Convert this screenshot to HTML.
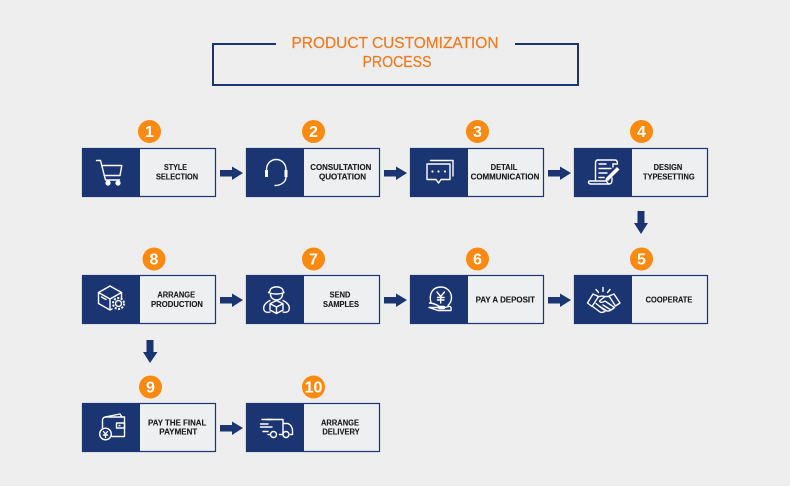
<!DOCTYPE html>
<html><head><meta charset="utf-8"><title>Product Customization Process</title>
<style>
html,body{margin:0;padding:0;background:#eeeeee}
svg{display:block}
text{font-family:"Liberation Sans",sans-serif}
.l{font-size:7.8px;font-weight:bold;fill:#1a1a1a;stroke:#1a1a1a;stroke-width:.12;text-anchor:middle}
.n{font-size:16px;font-weight:bold;fill:#fff;text-anchor:middle}
.t{font-size:16px;fill:#f47b20;stroke:#f47b20;stroke-width:.25;text-anchor:middle}
.box{fill:#eeeff1;stroke:#1b3573;stroke-width:1.2}
.pn{fill:#1b3573}
.c{fill:#fb8a0f}
.ic{fill:none;stroke:#fff;stroke-width:1.4;stroke-linecap:round;stroke-linejoin:round}
.ar{fill:#1b3573}
</style></head><body>
<svg width="790" height="486" viewBox="0 0 790 486" xmlns="http://www.w3.org/2000/svg">
<rect width="790" height="486" fill="#eeeeee"/>

<path d="M276 44H213V85H578V44H515" fill="none" stroke="#1b3573" stroke-width="2"/>
<text class="t" x="395" y="48" textLength="207" lengthAdjust="spacingAndGlyphs">PRODUCT CUSTOMIZATION</text>
<text class="t" x="397" y="67" textLength="69" lengthAdjust="spacingAndGlyphs">PROCESS</text>

<!-- boxes -->
<rect class="box" x="82.5" y="148.5" width="133" height="48"/><rect class="pn" x="82" y="148" width="58" height="49"/>
<rect class="box" x="246.5" y="148.5" width="133" height="48"/><rect class="pn" x="246" y="148" width="58" height="49"/>
<rect class="box" x="410.5" y="148.5" width="133" height="48"/><rect class="pn" x="410" y="148" width="58" height="49"/>
<rect class="box" x="574.5" y="148.5" width="133" height="48"/><rect class="pn" x="574" y="148" width="58" height="49"/>
<rect class="box" x="82.5" y="275.5" width="133" height="48"/><rect class="pn" x="82" y="275" width="58" height="49"/>
<rect class="box" x="246.5" y="275.5" width="133" height="48"/><rect class="pn" x="246" y="275" width="58" height="49"/>
<rect class="box" x="410.5" y="275.5" width="133" height="48"/><rect class="pn" x="410" y="275" width="58" height="49"/>
<rect class="box" x="574.5" y="275.5" width="133" height="48"/><rect class="pn" x="574" y="275" width="58" height="49"/>
<rect class="box" x="82.5" y="403.5" width="133" height="48"/><rect class="pn" x="82" y="403" width="58" height="49"/>
<rect class="box" x="246.5" y="403.5" width="133" height="48"/><rect class="pn" x="246" y="403" width="58" height="49"/>

<!-- circles -->
<circle class="c" cx="149.5" cy="131.5" r="11.5"/><text class="n" x="149.5" y="137">1</text>
<circle class="c" cx="313.5" cy="131.5" r="11.5"/><text class="n" x="313.5" y="137">2</text>
<circle class="c" cx="477.5" cy="131.5" r="11.5"/><text class="n" x="477.5" y="137">3</text>
<circle class="c" cx="641.5" cy="131.5" r="11.5"/><text class="n" x="641.5" y="137">4</text>
<circle class="c" cx="154" cy="259" r="11.5"/><text class="n" x="154" y="264.5">8</text>
<circle class="c" cx="313.5" cy="259" r="11.5"/><text class="n" x="313.5" y="264.5">7</text>
<circle class="c" cx="477.5" cy="259" r="11.5"/><text class="n" x="477.5" y="264.5">6</text>
<circle class="c" cx="641.5" cy="259" r="11.5"/><text class="n" x="641.5" y="264.5">5</text>
<circle class="c" cx="150.5" cy="387" r="11.5"/><text class="n" x="150.5" y="392.5">9</text>
<circle class="c" cx="313.5" cy="387" r="11.5"/><text class="n" x="313.5" y="392.5">10</text>

<!-- arrows -->
<path class="ar" d="M220 170H232V166.5L243 173L232 180V176.5H220Z"/>
<path class="ar" d="M384 170H396V166.5L407 173L396 180V176.5H384Z"/>
<path class="ar" d="M548 170H560V166.5L571 173L560 180V176.5H548Z"/>
<path class="ar" d="M220 297H232V293.5L243 300L232 307V303.5H220Z"/>
<path class="ar" d="M384 297H396V293.5L407 300L396 307V303.5H384Z"/>
<path class="ar" d="M548 297H560V293.5L571 300L560 307V303.5H548Z"/>
<path class="ar" d="M220 425H232V421.5L243 428L232 435V431.5H220Z"/>
<path class="ar" d="M637.5 211H644.5V223H648L641 234L634 223H637.5Z"/>
<path class="ar" d="M146.500 340H153.500V352H157.500L150 363L143 352H146.500Z"/>

<!-- labels -->
<text class="l" x="175.500" y="170" textLength="23" lengthAdjust="spacingAndGlyphs">STYLE</text>
<text class="l" x="177" y="179.700" textLength="42" lengthAdjust="spacingAndGlyphs">SELECTION</text>
<text class="l" x="340.800" y="170" textLength="61" lengthAdjust="spacingAndGlyphs">CONSULTATION</text>
<text class="l" x="342.500" y="179.700" textLength="47" lengthAdjust="spacingAndGlyphs">QUOTATION</text>
<text class="l" x="504" y="170" textLength="26.700" lengthAdjust="spacingAndGlyphs">DETAIL</text>
<text class="l" x="505" y="179.700" textLength="68.700" lengthAdjust="spacingAndGlyphs">COMMUNICATION</text>
<text class="l" x="668" y="170" textLength="28.700" lengthAdjust="spacingAndGlyphs">DESIGN</text>
<text class="l" x="668.800" y="179.700" textLength="51.700" lengthAdjust="spacingAndGlyphs">TYPESETTING</text>
<text class="l" x="176.200" y="297.300" textLength="37.700" lengthAdjust="spacingAndGlyphs">ARRANGE</text>
<text class="l" x="177" y="307" textLength="52" lengthAdjust="spacingAndGlyphs">PRODUCTION</text>
<text class="l" x="340" y="297.300" textLength="20.700" lengthAdjust="spacingAndGlyphs">SEND</text>
<text class="l" x="341" y="307" textLength="36" lengthAdjust="spacingAndGlyphs">SAMPLES</text>
<text class="l" x="505.300" y="302.300" textLength="59.300" lengthAdjust="spacingAndGlyphs">PAY A DEPOSIT</text>
<text class="l" x="669" y="302.300" textLength="46.700" lengthAdjust="spacingAndGlyphs">COOPERATE</text>
<text class="l" x="177.200" y="425.300" textLength="58.300" lengthAdjust="spacingAndGlyphs">PAY THE FINAL</text>
<text class="l" x="178.300" y="434.700" textLength="38" lengthAdjust="spacingAndGlyphs">PAYMENT</text>
<text class="l" x="340" y="425.300" textLength="38" lengthAdjust="spacingAndGlyphs">ARRANGE</text>
<text class="l" x="341" y="434.700" textLength="37.300" lengthAdjust="spacingAndGlyphs">DELIVERY</text>

<!-- cart -->
<g class="ic">
<path d="M96.500 160.500H100.500L105.500 180H119.500"/>
<path d="M101.800 165.500H121.800L120 175.500H104.200"/>
</g>
<circle cx="108" cy="183" r="2.600" fill="#fff"/><circle cx="118" cy="183" r="2.600" fill="#fff"/>

<!-- headset -->
<g class="ic">
<path d="M266.500 170C266.500 156 286 156 286 170"/>
<path d="M286 177C286 182 281 185.500 275 185.500"/>
</g>
<rect x="265" y="170" width="3" height="7" fill="#fff"/><rect x="284.500" y="170" width="3" height="7" fill="#fff"/>

<!-- chat -->
<g class="ic">
<path d="M427 164H450V179.500H441L438.500 183L436 179.500H427Z"/>
<path d="M430.500 160.500H453V176"/>
</g>
<circle cx="432.500" cy="171.500" r="1.100" fill="#fff"/><circle cx="438.500" cy="171.500" r="1.100" fill="#fff"/><circle cx="445" cy="171.500" r="1.100" fill="#fff"/>

<!-- scroll -->
<g class="ic">
<path d="M598 160H615C617 160 617.500 162 617.500 164H613"/>
<path d="M598 160C595.500 160 595.500 162 595.500 164V180"/>
<path d="M589 181H606C607 181 607.500 183.500 609 184H591C588.500 184 588 182 589 181Z"/>
<path d="M609 184C611.500 184 612 182.500 612 180V178"/>
<path d="M613 164V167"/>
<path d="M599 164H606M599 168.500H611M599 173H607M599 177.500H604"/>
</g>
<path d="M606 178L617 167L619.500 169.500L608.500 180.500L605 181.500Z" fill="#fff"/>

<!-- box gear -->
<g class="ic">
<path d="M110 286L121.500 292.500V298M110 286L98.500 292.500V303.500L110 310L112 309"/>
<path d="M98.500 292.500L110 299L121.500 292.500M110 299V309"/>
<path d="M101.500 297L106 299.500"/>
<circle cx="118.500" cy="303.500" r="3"/>
</g>
<circle cx="118.500" cy="303.500" r="5.500" fill="none" stroke="#fff" stroke-width="2" stroke-dasharray="2 1.500"/>

<!-- person -->
<g class="ic">
<path d="M270 291C270 285.500 283 285.500 283 291L284 292.500C280 294.500 273 294.500 268.500 292.500Z"/>
<path d="M270.500 294C270.500 302 282.500 302 282.500 294"/>
<path d="M270 300.500C265 303 263 306.500 264 310C265 312.500 268 312.500 270 312M283 300.500C288 303 290 306.500 289 310C288 312.500 285 312.500 283 312"/>
<path d="M276.500 300.500L283 303.800V310L276.500 313.500L270 310V303.800ZM270 303.800L276.500 307L283 303.800M276.500 307V313.500"/>
</g>

<!-- coin hand -->
<g class="ic">
<path d="M431 303C428.500 293 433 287 441 287C447 287 451.500 292 451.500 297.500C451.500 301 450 303.500 448 305.500"/>
<path d="M429.500 303C433 303 437 305 439.500 306.500H443.500C445 306.500 445 308.500 443.500 308.500H439M445 307.500L449 306.500C451 306 451.500 308 451 310.500H438L429 307.500Z"/>
<path d="M437 292L440.700 296.500L444.500 292M440.700 296.500V303M437.500 297.500H444M437.500 300H444"/>
</g>

<!-- handshake -->
<g class="ic">
<path d="M603 287.500V291.500M596 289.500L598.500 292.500M610 289.500L607.500 292.500"/>
<path d="M593 294L587.500 303L592 306.500L598.500 296.500Z"/>
<path d="M614 294L620 303L615.500 306L609 296Z"/>
<path d="M598 297C601 295.500 603 296 605 296.500L609.500 296.500"/>
<path d="M605 296.500L599.500 301C600 303 603 302.500 605 301L614.500 307.500"/>
<path d="M592 306L600 312C602 313 604 312 605 311.500M596 303.500L604 310M599 306L607 311C609 311.500 611 310 612 309.500M603 305L611 310M614.500 307.500L611 310"/>
</g>

<!-- wallet -->
<g class="ic">
<path d="M102.500 431V420C102.500 418 104 417 106 417H124.500V436.500H112"/>
<path d="M105 417L120 414L122 417"/>
<rect x="116.500" y="423" width="8" height="5"/>
</g>
<circle cx="105.500" cy="434" r="5.800" fill="#1b3573" stroke="#fff" stroke-width="1.400"/>
<path class="ic" d="M103.500 431.500L105.500 434L107.500 431.500M105.500 434V437.500M103.500 435H107.500"/>
<rect x="118.500" y="424.800" width="2" height="1.500" fill="#fff"/>

<!-- truck -->
<g class="ic">
<path d="M267 419.500H283V434.500H279.500M268 434.500H269.500M283 423.500H288C291 425 292.500 428 292.500 431V434.500H290.500"/>
<path d="M262 419.500H272M260.500 424H268M260.500 427H272M263 431.500H268"/>
</g>
<circle cx="273.500" cy="434.500" r="3" fill="#1b3573" stroke="#fff" stroke-width="1.400"/>
<circle cx="286" cy="434.500" r="3" fill="#1b3573" stroke="#fff" stroke-width="1.400"/>
</svg>
</body></html>
